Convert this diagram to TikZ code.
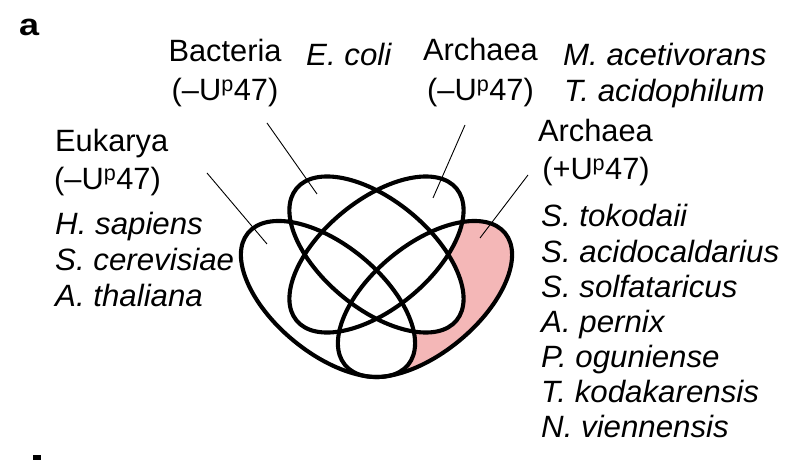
\documentclass[tikz,border=0pt]{standalone}
\usepackage{graphicx}
\usepackage{fontspec}
\setmainfont{Liberation Sans}[ItalicFeatures={FakeStretch=1.015}]
\usetikzlibrary{positioning}
\definecolor{vennpink}{RGB}{244,183,183}
\tikzset{
  lbl/.style={font=\fontsize{30.8}{35}\selectfont, inner sep=0pt},
  spc/.style={lbl, font=\fontsize{30.8}{35}\selectfont\itshape, anchor=base west},
  vennline/.style={line width=4.1pt},
  leader/.style={line width=0.9pt}
}

\begin{document}
\begin{tikzpicture}[x=1pt, y=1pt]
  \useasboundingbox (0,0) rectangle (796,460);
  \coordinate (euk) at (328,161);
  \coordinate (bac) at (376.5,205.5);
  \coordinate (arm) at (376.5,205.5);
  \coordinate (arp) at (425,161);
  \fill [vennpink, rotate around={39.5:(arp)}] (arp) ellipse [x radius=103.7, y radius=54];
  \foreach \c/\r in {euk/-39.5, bac/-39.5, arm/39.5}
    \fill [white, rotate around={\r:(\c)}] (\c) ellipse [x radius=103.7, y radius=54];
  \foreach \c/\r in {euk/-39.5, bac/-39.5, arm/39.5, arp/39.5}
    \draw [vennline, rotate around={\r:(\c)}] (\c) ellipse [x radius=103.7, y radius=54];

  \node [lbl, font=\fontsize{30.5}{35}\selectfont\bfseries, anchor=base west] (panel) at (19,424.5) {\scalebox{1.18}[1]{a}};
  \fill (33,0) rectangle (41,5);

  \node [lbl, anchor=base] (bacT) at (225,398.5) {Bacteria};
  \node [lbl, anchor=base] (bacU) at (225,359.5) {(–U\textsuperscript{p}47)};
  \node [spc] (ecoli) at (306,394) {E. coli};
  \node [lbl, anchor=base] (armT) at (480.5,399) {Archaea};
  \node [lbl, anchor=base] (armU) at (480.5,359.5) {(–U\textsuperscript{p}47)};
  \node [spc] (macet) at (563,394) {M. acetivorans};
  \node [spc] (tacid) at (564,358) {T. acidophilum};
  \node [lbl, anchor=base west] (eukT) at (55,308.3) {Eukarya};
  \node [lbl, anchor=base west] (eukU) at (54,270) {(–U\textsuperscript{p}47)};
  \node [lbl, anchor=base] (arpT) at (595.5,318) {Archaea};
  \node [lbl, anchor=base] (arpU) at (596,280) {(+U\textsuperscript{p}47)};

  \foreach \sp [count=\i] in {H. sapiens, S. cerevisiae, A. thaliana}
    \node [spc] (eukS\i) at (55,261-36*\i) {\sp};
  \foreach \sp [count=\i] in {S. tokodaii, S. acidocaldarius, S. solfataricus, A. pernix, P. oguniense, T. kodakarensis, N. viennensis}
    \node [spc] (arpS\i) at (541,268.2-35.17*\i) {\sp};

  \coordinate (bacA) at (267,337); \coordinate (bacB) at (317,266);
  \coordinate (eukA) at (207,287); \coordinate (eukB) at (267,216);
  \coordinate (armA) at (465,335); \coordinate (armB) at (433,262);
  \coordinate (arpA) at (528,285); \coordinate (arpB) at (480,222);
  \foreach \s in {bac, euk, arm, arp}
    \draw [leader] (\s A) -- (\s B);
\end{tikzpicture}
\end{document}
